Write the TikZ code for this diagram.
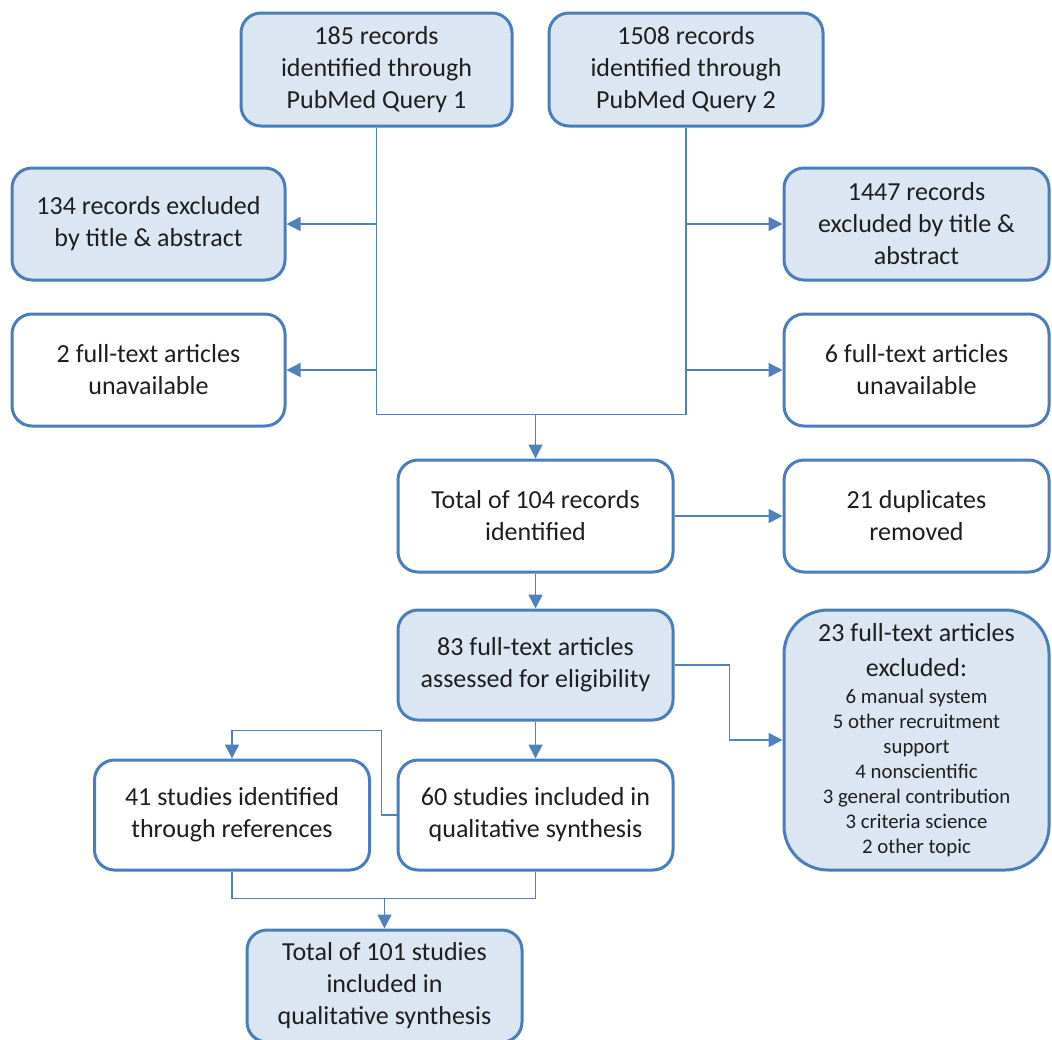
\documentclass[tikz,border=0pt]{standalone}
\usepackage{fontspec}
\setmainfont{Carlito}
\usetikzlibrary{arrows.meta,calc}
\definecolor{bdr}{HTML}{4A7EBB}
\definecolor{cn}{HTML}{4F81BD}
\definecolor{fillb}{HTML}{DCE6F2}
\definecolor{txt}{HTML}{1E1E1E}
\tikzset{
  box/.style={draw=bdr, line width=1.5pt, rounded corners=10pt, align=center,
    inner sep=0pt, fill=white, text=txt, font=\fontsize{13}{16}\selectfont},
  fbox/.style={box, fill=fillb},
  conn/.style={draw=cn, line width=0.7pt},
  arr/.style={conn, -{Triangle[length=7pt,width=7pt]}}
}
\begin{document}
\begin{tikzpicture}[x=0.5pt,y=-0.5pt]
\useasboundingbox (0,0) rectangle (1052,1039);
\clip (0,0) rectangle (1052,1039);
% nodes
\node[fbox, minimum width=135.5pt, minimum height=56.5pt] (q1) at (376.5,69.5)
  {185 records\\identified through\\PubMed Query 1};
\node[fbox, minimum width=137pt, minimum height=56.5pt] (q2) at (686,69.5)
  {1508 records\\identified through\\PubMed Query 2};
\node[fbox, minimum width=136.5pt, minimum height=56pt] (ex1) at (148.5,224)
  {134 records excluded\\by title \& abstract};
\node[box, minimum width=136.5pt, minimum height=56pt] (un1) at (148.5,370)
  {2 full-text articles\\unavailable};
\node[fbox, minimum width=132.5pt, minimum height=56pt] (ex2) at (916.5,224)
  {1447 records\\excluded by title \&\\abstract};
\node[box, minimum width=132.5pt, minimum height=56pt] (un2) at (916.5,370)
  {6 full-text articles\\unavailable};
\node[box, minimum width=137.5pt, minimum height=56pt] (tot) at (535.5,516)
  {Total of 104 records\\identified};
\node[box, minimum width=132.5pt, minimum height=56pt] (dup) at (916.5,516)
  {21 duplicates\\removed};
\node[fbox, minimum width=137.5pt, minimum height=55pt] (ft) at (535.5,665)
  {83 full-text articles\\assessed for eligibility};
\node[fbox, rounded corners=22pt, minimum width=132.5pt, minimum height=130pt] (exc) at (916.5,740)
  {\parbox{130pt}{\centering\fontsize{13}{17.5}\selectfont 23 full-text articles\\excluded:\par
   \vspace{1pt}\fontsize{10.4}{12.5}\selectfont 6 manual system\\5 other recruitment\\support\\4 nonscientific\\3 general contribution\\3 criteria science\\2 other topic\par}};
\node[box, minimum width=137.5pt, minimum height=55pt] (inc) at (535.5,815)
  {60 studies included in\\qualitative synthesis};
\node[box, minimum width=137.5pt, minimum height=55pt] (ref) at (232,815)
  {41 studies identified\\through references};
\node[fbox, minimum width=137.5pt, minimum height=56pt] (fin) at (384.5,986)
  {Total of 101 studies\\included in\\qualitative synthesis};
% connectors
\coordinate (j1) at ($(tot.north)+(0,-44)$);
\coordinate (j2) at ($(fin.north)+(0,-30)$);
\draw[conn] (q1.south) |- (j1) -| (q2.south);
\draw[arr] (q1.south |- ex1.east) -- (ex1.east);
\draw[arr] (q1.south |- un1.east) -- (un1.east);
\draw[arr] (q2.south |- ex2.west) -- (ex2.west);
\draw[arr] (q2.south |- un2.west) -- (un2.west);
\draw[arr] (j1) -- (tot.north);
\draw[arr] (tot.east) -- (dup.west);
\draw[arr] (tot.south) -- (ft.north);
\draw[arr] (ft.east) -- ++(55,0) |- (exc.west);
\draw[arr] (ft.south) -- (inc.north);
\draw[arr] (inc.west) -- ++(-15,0) |- ($(ref.north)+(0,-28)$) -- (ref.north);
\draw[conn] (ref.south) |- (j2) -| (inc.south);
\draw[arr] (j2) -- (fin.north);
\end{tikzpicture}
\end{document}
